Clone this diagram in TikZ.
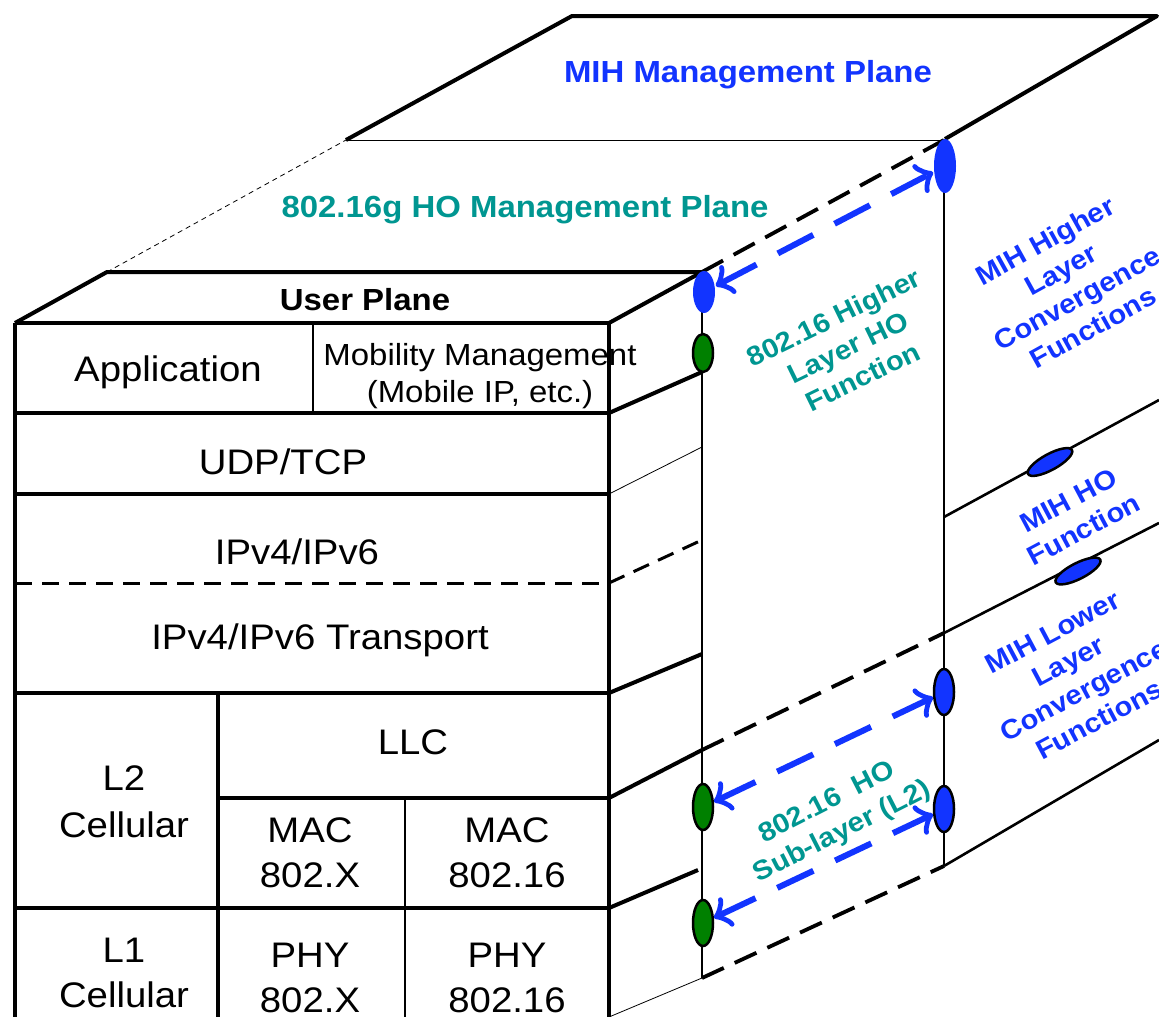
\documentclass[tikz,border=0pt]{standalone}
\usepackage{fontspec}
\setmainfont{Liberation Sans}[FakeStretch=1.08]
\usetikzlibrary{shapes.geometric,arrows.meta}
\definecolor{mihblue}{RGB}{18,52,255}
\definecolor{tealho}{RGB}{0,150,145}
\definecolor{ellgreen}{RGB}{0,128,0}
\begin{document}
\begin{tikzpicture}[x=1pt,y=-1pt,
  thickln/.style={line width=4pt},
  medln/.style={line width=2.6pt},
  thinln/.style={line width=0.8pt},
  dashln/.style={line width=3.8pt, dash pattern=on 24pt off 12pt},
  tabdash/.style={line width=3pt, dash pattern=on 17pt off 10pt},
  lbl/.style={anchor=base, inner sep=0pt, font=\fontsize{35.5}{42}\selectfont},
  slbl/.style={anchor=base, inner sep=0pt, font=\fontsize{30.5}{36}\selectfont},
  blbl/.style={anchor=base, inner sep=0pt, font=\bfseries\fontsize{30.5}{36}\selectfont},
  rot/.style={align=center, inner sep=0pt, font=\bfseries\fontsize{27}{33}\selectfont},
  pill/.style={ellipse, draw=black, line width=2.5pt, inner sep=0pt},
  gpill/.style={pill, fill=ellgreen, minimum width=20pt, minimum height=44pt},
  bpill/.style={pill, fill=mihblue, minimum width=20pt, minimum height=44pt},
  bflat/.style={pill, fill=mihblue, minimum width=50pt, minimum height=16pt},
  btip/.tip={Classical TikZ Rightarrow[length=16pt,width=32pt]},
  barrow/.style={draw=mihblue, line width=6pt, dash pattern=on 40pt off 24pt, arrows={btip-btip}},
]
\path[use as bounding box] (0,0) rectangle (1159,1017);
\clip (0,0) rectangle (1159,1017);

% MIH management plane (top)
\draw[thickln, line join=round] (346,140) -- (572,16) -- (1157,16) -- (945,139);
\draw[thinln] (346,140) -- (945,140);
\draw[thinln, dash pattern=on 5pt off 4pt] (107,272) -- (346,140);

% user plane top face
\draw[thickln, line join=round] (15,323) -- (107,272) -- (702,272);
\draw[thickln] (609,323) -- (702,272);
\draw[dashln] (702,272) -- (944,140);

% right box (MIH)
\draw[medln] (944,140) -- (944,866);
\draw[medln] (944,517) -- (1159,400);
\draw[medln] (944,633) -- (1159,523);
\draw[medln] (944,866) -- (1159,740);

% middle vertical
\draw[medln] (702,272) -- (702,978);

% side face of user plane stack
\draw[thickln] (609,413) -- (702,372);
\draw[thinln] (609,494) -- (702,447);
\draw[tabdash] (609,583) -- (702,540);
\draw[thickln] (609,693) -- (702,654);
\draw[thickln] (609,798) -- (702,750);
\draw[dashln] (702,750) -- (944,633);
\draw[thickln] (609,908) -- (698,870);
\draw[thinln] (609,1017) -- (702,978);
\draw[dashln] (702,978) -- (944,866);

% front table
\draw[thickln] (15,323) -- (15,1030);
\draw[thickln] (609,323) -- (609,1030);
\draw[thickln] (15,323) -- (609,323);
\draw[thickln] (15,413) -- (609,413);
\draw[thickln] (15,494) -- (609,494);
\draw[tabdash] (15,583) -- (609,583);
\draw[thickln] (15,693) -- (609,693);
\draw[thickln] (218,798) -- (609,798);
\draw[thickln] (15,908) -- (609,908);
\draw[medln] (313,323) -- (313,413);
\draw[thickln] (218,693) -- (218,1030);
\draw[medln] (405,798) -- (405,1030);

% table labels
\node[lbl] (app) at (168,381) {Application};
\node[slbl] (mm1) at (480,365) {Mobility Management};
\node[slbl] (mm2) at (480,402) {(Mobile IP, etc.)};
\node[lbl] (udp) at (283,474) {UDP/TCP};
\node[lbl] (ip) at (297,564) {IPv4/IPv6};
\node[lbl] (ipt) at (320,649) {IPv4/IPv6 Transport};
\node[lbl] (llc) at (413,754) {LLC};
\node[lbl] (l2a) at (124,790) {L2};
\node[lbl] (l2b) at (124,837) {Cellular};
\node[lbl] (mxa) at (310,842) {MAC};
\node[lbl] (mxb) at (310,887) {802.X};
\node[lbl] (mya) at (507,842) {MAC};
\node[lbl] (myb) at (507,887) {802.16};
\node[lbl] (l1a) at (124,962) {L1};
\node[lbl] (l1b) at (124,1007) {Cellular};
\node[lbl] (pxa) at (310,967) {PHY};
\node[lbl] (pxb) at (310,1012) {802.X};
\node[lbl] (pya) at (507,967) {PHY};
\node[lbl] (pyb) at (507,1012) {802.16};

% plane labels
\node[blbl] (up) at (365,310) {User Plane};
\node[blbl, text=mihblue] (mihp) at (748,82) {MIH Management Plane};
\node[blbl, text=tealho] (hop) at (525,217) {802.16g HO Management Plane};

% rotated labels
\node[rot, text=tealho, rotate=26] (t1) at (848,347) {802.16 Higher\\Layer HO\\Function};
\node[rot, text=mihblue, rotate=29] (m1) at (1069,284) {MIH Higher\\Layer\\Convergence\\Functions};
\node[rot, text=mihblue, rotate=28] (m2) at (1076,515) {MIH HO\\Function};
\node[rot, text=mihblue, rotate=28] (m3) at (1076,676) {MIH Lower\\Layer\\Convergence\\Functions};
\node[rot, text=tealho, rotate=27] (t2) at (835,818) {802.16\ \ HO\\Sub-layer (L2)};

% function points
\node[bpill, draw=none, minimum width=22pt, minimum height=42pt] (bTL) at (704,292) {};
\node[bpill, draw=none, minimum width=22pt, minimum height=54pt] (bTR) at (945,166) {};
\node[gpill, minimum height=38pt] (g1) at (703,353) {};
\node[gpill, minimum height=46pt] (g2) at (703,807) {};
\node[gpill, minimum height=46pt] (g3) at (703,923) {};
\node[bpill, minimum height=46pt] (b3) at (944,692) {};
\node[bpill, minimum height=46pt] (b4) at (944,809) {};
\node[bflat, rotate=28.6] (b5) at (1050,462) {};
\node[bflat, rotate=27] (b6) at (1078,571) {};

% arrows
\draw[barrow] (bTL) -- (bTR);
\draw[barrow] (g2) -- (b3);
\draw[barrow] (g3) -- (b4);
\end{tikzpicture}
\end{document}
